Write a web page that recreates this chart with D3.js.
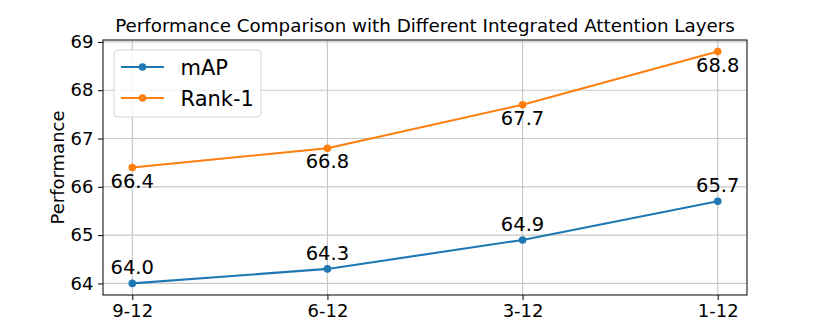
<!DOCTYPE html>
<html>
<head>
<meta charset="utf-8">
<script src="https://cdn.jsdelivr.net/npm/d3@7"></script>
<style>
  body { margin: 0; background: #fff; }
  svg text { font-family: "DejaVu Sans", sans-serif; }
</style>
</head>
<body>
<div id="vis"></div>
<script>
var categories = ["9-12", "6-12", "3-12", "1-12"];
var mapValues = [64.0, 64.3, 64.9, 65.7];
var rankValues = [66.4, 66.8, 67.7, 68.8];
var yTicks = [64, 65, 66, 67, 68, 69];

var margin = {top: 40, right: 83, bottom: 37, left: 103};
var width = 830 - margin.left - margin.right,
    height = 332 - margin.top - margin.bottom;

var svg = d3.select("div#vis").append("svg")
  .attr("width", 830)
  .attr("height", 332);

var g = svg.append("g")
  .attr("transform", "translate(" + margin.left + "," + margin.top + ")");

// matplotlib style 5% margins
var x = d3.scaleLinear().domain([-0.15, 3.15]).range([0, width]);
var y = d3.scaleLinear().domain([63.76, 69.04]).range([height, 0]);

// grid
g.append("g").selectAll("line")
  .data(yTicks)
  .enter().append("line")
  .attr("x1", 0).attr("x2", width)
  .attr("y1", function(d) { return y(d); })
  .attr("y2", function(d) { return y(d); })
  .attr("stroke", "#c8c8c8").attr("stroke-width", 1.2);

g.append("g").selectAll("line")
  .data(categories)
  .enter().append("line")
  .attr("y1", 0).attr("y2", height)
  .attr("x1", function(d, i) { return x(i); })
  .attr("x2", function(d, i) { return x(i); })
  .attr("stroke", "#c8c8c8").attr("stroke-width", 1.2);

// axes
var xAxis = g.append("g")
  .attr("transform", "translate(0," + height + ")")
  .call(d3.axisBottom(x).tickValues([0, 1, 2, 3])
    .tickFormat(function(d) { return categories[d]; })
    .tickSizeOuter(0).tickSize(5).tickPadding(4.5));

var yAxis = g.append("g")
  .call(d3.axisLeft(y).tickValues(yTicks).tickFormat(d3.format("d"))
    .tickSizeOuter(0).tickSize(5).tickPadding(4.5));

[xAxis, yAxis].forEach(function(a) {
  a.selectAll("text").attr("font-size", 18).attr("fill", "#000")
    .style("font-family", "DejaVu Sans");
  a.selectAll(".tick line").attr("stroke", "#000");
  a.select(".domain").remove();
});

// frame
g.append("rect")
  .attr("width", width).attr("height", height)
  .attr("fill", "none").attr("stroke", "#000").attr("stroke-width", 1);

var series = [
  {name: "mAP", values: mapValues, color: "#1f77b4", above: true},
  {name: "Rank-1", values: rankValues, color: "#ff7f0e", above: false}
];

var line = d3.line()
  .x(function(d, i) { return x(i); })
  .y(function(d) { return y(d); });

series.forEach(function(s) {
  g.append("path")
    .datum(s.values)
    .attr("d", line)
    .attr("fill", "none")
    .attr("stroke", s.color)
    .attr("stroke-width", 2.1);

  g.selectAll(null)
    .data(s.values)
    .enter().append("circle")
    .attr("cx", function(d, i) { return x(i); })
    .attr("cy", function(d) { return y(d); })
    .attr("r", 3.8)
    .attr("fill", s.color);

  g.selectAll(null)
    .data(s.values)
    .enter().append("text")
    .attr("x", function(d, i) { return x(i); })
    .attr("y", function(d) { return s.above ? y(d) - 9 : y(d) + 20; })
    .attr("text-anchor", "middle")
    .attr("font-size", 19.5)
    .attr("fill", "#000")
    .text(function(d) { return d.toFixed(1); });
});

// title and label
svg.append("text")
  .attr("x", margin.left + width / 2)
  .attr("y", 32)
  .attr("text-anchor", "middle")
  .attr("font-size", 18.3)
  .text("Performance Comparison with Different Integrated Attention Layers");

svg.append("text")
  .attr("transform", "translate(63.5," + (margin.top + height / 2) + ") rotate(-90)")
  .attr("text-anchor", "middle")
  .attr("font-size", 18)
  .text("Performance");

// legend
var legend = g.append("g").attr("transform", "translate(11,10)");
legend.append("rect")
  .attr("width", 147).attr("height", 67)
  .attr("rx", 4)
  .attr("fill", "#fff").attr("fill-opacity", 0.8)
  .attr("stroke", "#d5d5d5");

var item = legend.selectAll("g")
  .data(series)
  .enter().append("g")
  .attr("transform", function(d, i) { return "translate(0," + (17 + i * 31) + ")"; });

item.append("line")
  .attr("x1", 7).attr("x2", 50)
  .attr("stroke", function(d) { return d.color; })
  .attr("stroke-width", 2.1);
item.append("circle")
  .attr("cx", 28.5).attr("r", 3.8)
  .attr("fill", function(d) { return d.color; });
item.append("text")
  .attr("x", 66.5).attr("dy", "0.36em")
  .attr("font-size", 21)
  .text(function(d) { return d.name; });
</script>
</body>
</html>
